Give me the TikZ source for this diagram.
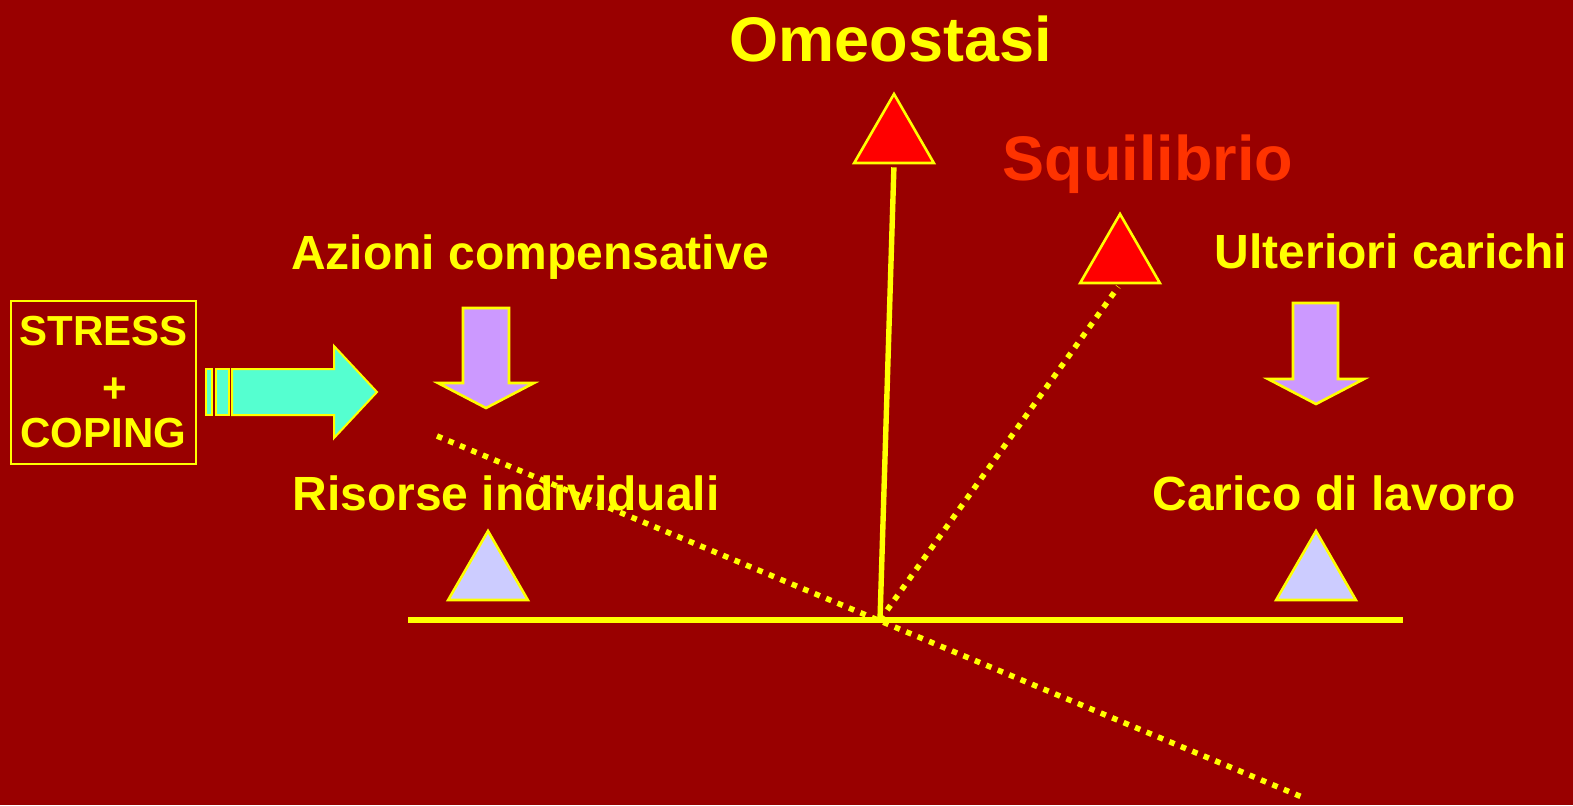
\documentclass[tikz,border=0pt]{standalone}
\usepackage{fontspec}
\setmainfont{Liberation Sans}
\usetikzlibrary{shapes.geometric}
\definecolor{bgred}{HTML}{990000}
\definecolor{ylw}{HTML}{FFFF00}
\definecolor{hotred}{HTML}{FF0000}
\definecolor{orangered}{HTML}{FF3300}
\definecolor{lilac}{HTML}{CC99FF}
\definecolor{paleblue}{HTML}{CCCCFF}
\definecolor{aqua}{HTML}{55FFD0}

\begin{document}
\begin{tikzpicture}[
  x=0.5pt, y=-0.5pt,
  every node/.style={text=ylw},
  headline/.style={font=\fontsize{31.5}{36}\bfseries\selectfont, anchor=base, inner sep=0pt},
  lbl/.style={font=\fontsize{24}{28}\bfseries\selectfont, anchor=base, inner sep=0pt},
  tri/.style={regular polygon, regular polygon sides=3, draw=ylw, line width=1.3pt,
              minimum size=46pt, inner sep=0pt},
  box/.style={draw=ylw, line width=1pt, minimum width=92.5pt, minimum height=81.5pt,
              align=center, inner sep=0pt, font=\fontsize{21}{25.5}\bfseries\selectfont},
  beam/.style={draw=ylw, line width=2.7pt},
  dots/.style={draw=ylw, line width=2.8pt, dash pattern=on 2.8pt off 3.4pt},
  downarr/.style={draw=ylw, fill=lilac, line width=1.3pt, line join=miter},
  pusharr/.style={draw=ylw, fill=aqua, line width=1pt, line join=miter}
]
\fill[bgred] (0,0) rectangle (1573,805);
\useasboundingbox (0,0) rectangle (1573,805);

% titles and labels
\node[headline] (omeo-t) at (891,61) {Omeostasi};
\node[headline, text=orangered] (squi-t) at (1148,180) {Squilibrio};
\node[lbl] (azioni)  at (530,269)  {Azioni compensative};
\node[lbl] (ulter)   at (1391,268) {Ulteriori carichi};
\node[lbl] (risorse) at (506,510)  {Risorse individuali};
\node[lbl] (carico)  at (1334,510) {Carico di lavoro};

% stress box and its arrow
\node[box] (stress) at (103.5,382.5) {STRESS\\\hspace*{11pt}\raisebox{-3pt}{+}\\COPING};
\draw[pusharr] (206,369) rectangle (212,415);
\draw[pusharr] (216,369) rectangle (229,415);
\draw[pusharr] (232,369) -- (334,369) -- (334,346) -- (377,392)
               -- (334,438) -- (334,415) -- (232,415) -- cycle;

% loads
\draw[downarr] (463,308) -- (509,308) -- (509,383) -- (534,383) -- (486,408)
               -- (438,383) -- (463,383) -- cycle;
\draw[downarr] (1293,303) -- (1338,303) -- (1338,379) -- (1364,379) -- (1316,404)
               -- (1268,379) -- (1293,379) -- cycle;

% triangles
\node[tri, fill=paleblue] (risorse-w) at (488,577) {};
\node[tri, fill=paleblue] (carico-w)  at (1316,577) {};
\node[tri, fill=hotred]   (omeo)      at (894,140) {};
\node[tri, fill=hotred]   (squi)      at (1120,260) {};

% balance
\coordinate (beamL) at (408,620);
\coordinate (beamR) at (1403,620);
\coordinate (pivot) at (880,620);
\coordinate (tiltL) at (437,436);
\coordinate (tiltR) at (1302,797);

\draw[beam] (beamL) -- (beamR);
\draw[beam, shorten >=1.5pt] (pivot) -- (omeo.south);
\draw[dots, shorten >=1.5pt] (pivot) -- (squi.south);
\draw[dots] (tiltL) -- (tiltR);
\end{tikzpicture}
\end{document}
